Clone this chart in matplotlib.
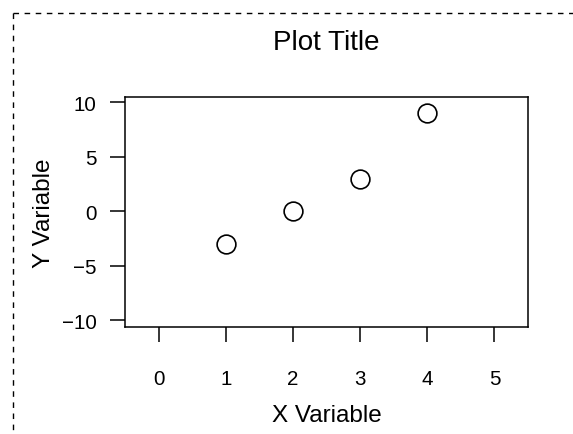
import matplotlib
matplotlib.use('Agg')
import matplotlib.pyplot as plt
from matplotlib.lines import Line2D

x_vals = [1, 2, 3, 4]
y_vals = [-3, 0, 3, 9]
x_ticks = [0, 1, 2, 3, 4, 5]
y_ticks = [-10, -5, 0, 5, 10]

plt.rcParams['font.family'] = ['Liberation Sans', 'DejaVu Sans']
plt.rcParams['axes.unicode_minus'] = True

fig = plt.figure(figsize=(5.73, 4.35), dpi=100)
W, H = 573, 435
ax = fig.add_axes([125 / W, 1 - 328 / H, (528 - 125) / W, (328 - 98) / H])

ax.plot(x_vals, y_vals, 'o', markersize=13.5, markerfacecolor='none',
        markeredgecolor='black', markeredgewidth=1.2)

ax.set_xlim(-0.5, 5.5)
ax.set_ylim(-10.6, 10.5)
ax.set_xticks(x_ticks)
ax.set_yticks(y_ticks)
ax.tick_params(axis='both', direction='out', length=10.5, width=1.1, labelsize=14.8, color='black')
ax.tick_params(axis='x', pad=20)
ax.tick_params(axis='y', pad=10)
for s in ax.spines.values():
    s.set_linewidth(1.1)

ax.set_xlabel('X Variable', fontsize=17.5, labelpad=11)
ax.set_ylabel('Y Variable', fontsize=17.5, labelpad=5)
fig.text(326.5 / W, 1 - 43 / H, 'Plot Title', fontsize=20, ha='center', va='center')

# dashed outer frame (R figure region)
fx, fy = 13 / W, 1 - 14 / H
fig.add_artist(Line2D([fx, 1.02], [fy, fy], transform=fig.transFigure,
                      color='black', linewidth=1, linestyle=(0, (4, 4))))
fig.add_artist(Line2D([fx, fx], [fy, -0.02], transform=fig.transFigure,
                      color='black', linewidth=1, linestyle=(0, (4, 4))))

fig.savefig('out.png', dpi=100)
